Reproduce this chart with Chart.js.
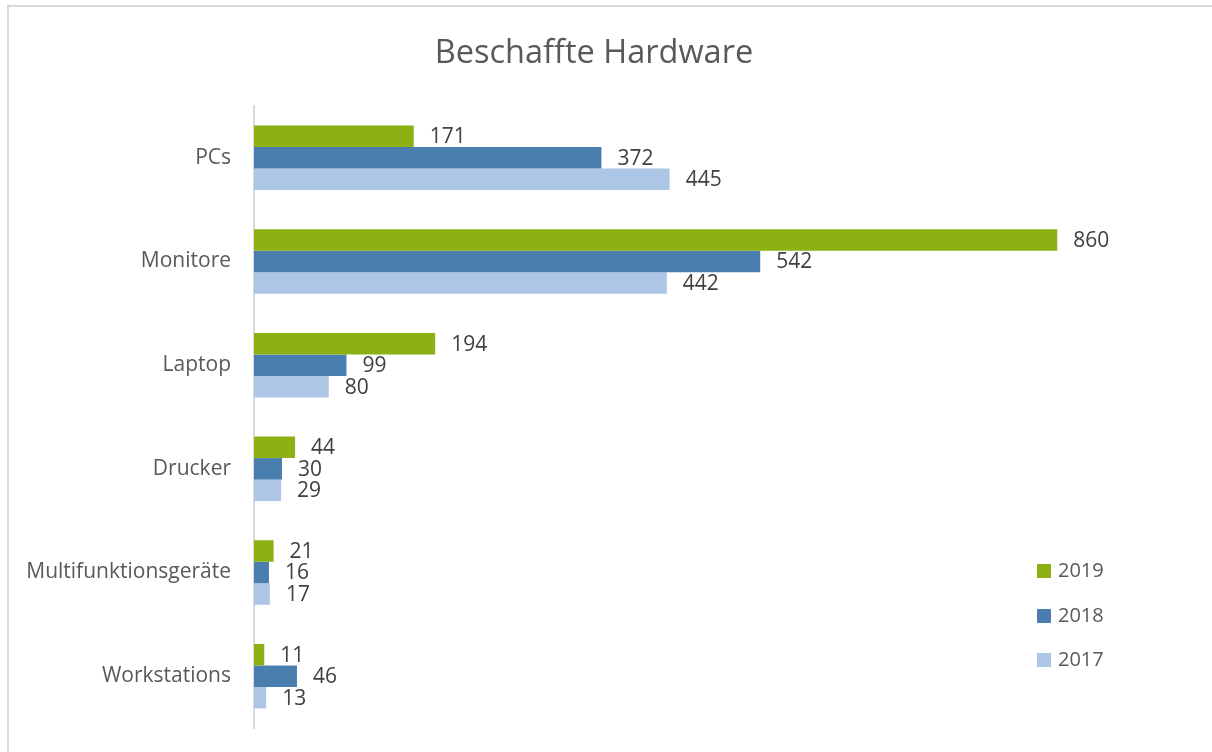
<!DOCTYPE html>
<html>
<head>
<meta charset="utf-8">
<script src="https://cdn.jsdelivr.net/npm/chart.js@4/dist/chart.umd.min.js"></script>
<style>
  html, body { margin: 0; padding: 0; overflow: hidden; background: #fff; }
  #frame { position: absolute; left: 7px; top: 5px; width: 1230px; height: 770px; border: 2px solid #d9d9d9; }
  #myChart { position: absolute; left: 0; top: 0; }
  #legend { position: absolute; left: 1037px; top: 556px; font-family: "Open Sans", sans-serif; font-size: 20px; color: #595959; }
  .item { height: 44.5px; display: flex; align-items: flex-start; }
  .box { width: 14px; height: 14px; margin-top: 8px; margin-right: 7px; }
</style>
</head>
<body>
<div id="frame"></div>
<canvas id="myChart" width="1212" height="752"></canvas>
<div id="legend"></div>
<script>
// categories and values
const categories = ['PCs', 'Monitore', 'Laptop', 'Drucker', 'Multifunktionsgeräte', 'Workstations'];
const years = ['2019', '2018', '2017'];
const values2019 = [171, 860, 194, 44, 21, 11];
const values2018 = [372, 542, 99, 30, 16, 46];
const values2017 = [445, 442, 80, 29, 17, 13];
const colors = ['#8db012', '#4a7eaf', '#adc6e5'];

const fontName = '"Open Sans", sans-serif';

// write the value next to the end of every bar
const valueLabels = {
    id: 'valueLabels',
    afterDatasetsDraw(chart) {
        const ctx = chart.ctx;
        ctx.save();
        ctx.font = '21px ' + fontName;
        ctx.fillStyle = '#404040';
        ctx.textBaseline = 'middle';
        ctx.textAlign = 'left';
        chart.data.datasets.forEach(function (ds, i) {
            chart.getDatasetMeta(i).data.forEach(function (bar, j) {
                ctx.fillText(ds.data[j], bar.x + 16, bar.y + 1);
            });
        });
        ctx.restore();
    }
};

const ctx = document.getElementById('myChart').getContext('2d');
const config = {
    type: 'bar',
    data: {
        labels: categories,
        datasets: [
            { label: years[0], data: values2019, backgroundColor: colors[0] },
            { label: years[1], data: values2018, backgroundColor: colors[1] },
            { label: years[2], data: values2017, backgroundColor: colors[2] }
        ]
    },
    options: {
        responsive: false,
        animation: false,
        indexAxis: 'y',
        categoryPercentage: 0.622,
        barPercentage: 1.0,
        layout: {
            padding: { top: 0, left: 0, right: 24, bottom: 24 }
        },
        plugins: {
            legend: { display: false },
            tooltip: { enabled: false },
            title: {
                display: true,
                text: 'Beschaffte Hardware',
                color: '#595959',
                font: { family: fontName, size: 32.5, weight: 'normal' },
                padding: { top: 34, bottom: 33 }
            }
        },
        scales: {
            x: {
                display: false,
                min: 0,
                max: 1000
            },
            y: {
                grid: { display: false, drawTicks: false },
                border: { display: true, color: '#d9d9d9', width: 2 },
                ticks: {
                    color: '#595959',
                    padding: 23,
                    font: { family: fontName, size: 21 }
                },
                afterFit: function (scale) {
                    scale.width = 254;
                    // no extra room above/below for the labels
                    scale.paddingTop = 0;
                    scale.paddingBottom = 0;
                }
            }
        }
    },
    plugins: [valueLabels]
};
const myChart = new Chart(ctx, config);

// legend sits over the plot like in the original
const legendDiv = document.getElementById('legend');
myChart.data.datasets.forEach(function (ds) {
    const item = document.createElement('div');
    item.className = 'item';
    const box = document.createElement('span');
    box.className = 'box';
    box.style.background = ds.backgroundColor;
    const txt = document.createElement('span');
    txt.textContent = ds.label;
    item.appendChild(box);
    item.appendChild(txt);
    legendDiv.appendChild(item);
});
</script>
</body>
</html>
